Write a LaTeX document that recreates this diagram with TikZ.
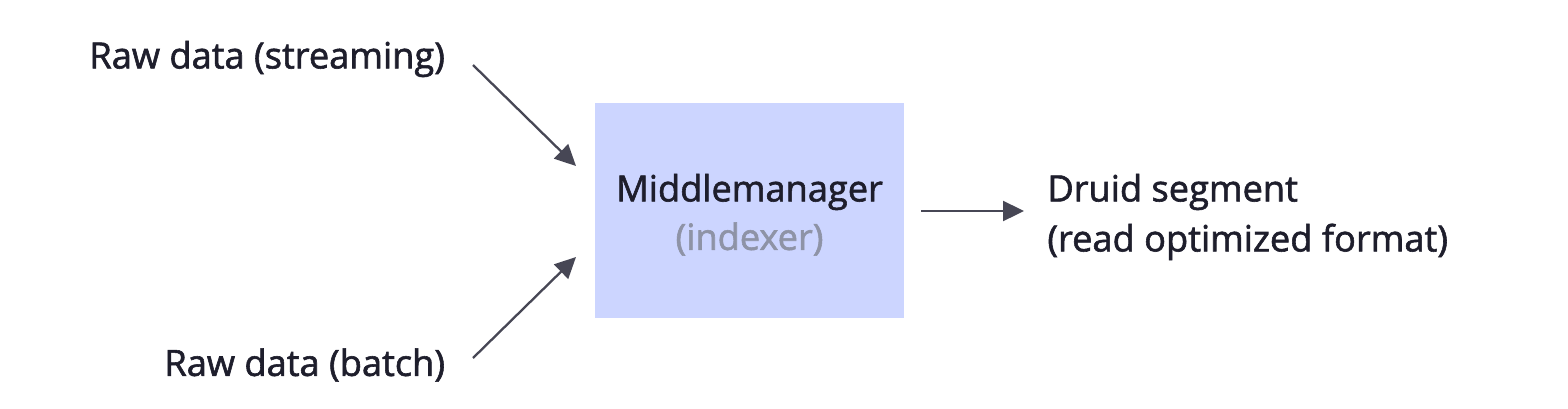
\documentclass[tikz,border=0pt]{standalone}
\usepackage{fontspec}
\setmainfont{Open Sans}
\newfontfamily\semi{Open Sans}[FakeBold=1.6]
\usetikzlibrary{arrows.meta}
\definecolor{boxfill}{HTML}{CCD5FF}
\definecolor{txt}{HTML}{1E1E2C}
\definecolor{subtxt}{HTML}{8E93A6}
\definecolor{arr}{HTML}{474755}
\begin{document}
\begin{tikzpicture}[x=0.5pt,y=-0.5pt,
  lbl/.style={font=\semi\fontsize{18.1}{25}\selectfont, text=txt, inner sep=0pt},
  conn/.style={draw=arr, line width=1.15pt, -{Triangle[length=10.5pt,width=10pt]}}]
\useasboundingbox (0,0) rectangle (1568,408);
\fill[white] (0,0) rectangle (1568,408);
\node[fill=boxfill, minimum width=154.5pt, minimum height=107.5pt, inner sep=0pt] (mm) at (749.5,210.5) {};
\node[lbl] (mmt) at (749.5,192) {Middlemanager};
\node[lbl, text=subtxt] (idx) at (749.5,239) {(indexer)};
\node[lbl, anchor=west] (rs) at (89,59) {Raw data (streaming)};
\node[lbl, anchor=west] (rb) at (164,365) {Raw data (batch)};
\node[lbl, anchor=west, align=left] (ds) at (1047,217) {Druid segment\\(read optimized format)};
\coordinate (s1) at (473,65);
\coordinate (e1) at (576,166);
\coordinate (s2) at (473,358);
\coordinate (e2) at (576,257);
\coordinate (s3) at (921,211);
\coordinate (e3) at (1024,211);
\draw[conn] (s1) -- (e1);
\draw[conn] (s2) -- (e2);
\draw[conn] (s3) -- (e3);
\end{tikzpicture}
\end{document}
